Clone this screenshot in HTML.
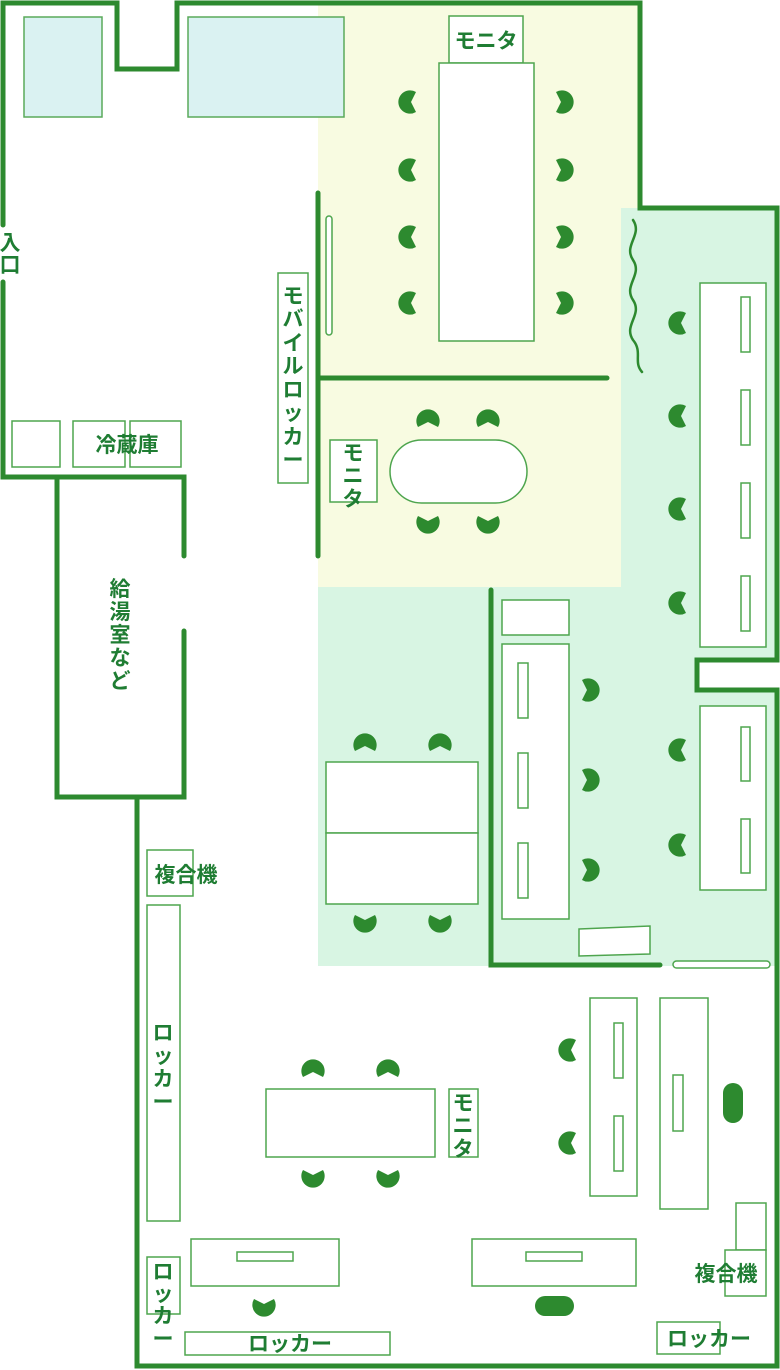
<!DOCTYPE html>
<html><head><meta charset="utf-8"><style>
html,body{margin:0;padding:0;background:#fff;}
svg{display:block;}
text{font-family:"Liberation Sans","Noto Sans CJK JP",sans-serif;font-size:21px;font-weight:bold;fill:#1f7d33;}
</style></head><body>
<svg width="780" height="1370" viewBox="0 0 780 1370" xmlns="http://www.w3.org/2000/svg">
<defs>
<path id="ch" d="M6,-10 A11.66 11.66 0 1 0 6,10 L1,0 Z" fill="#2d8a2f"/>
</defs>
<rect x="318" y="3" width="322" height="584" fill="#f8fbe1"/>
<rect x="621" y="208" width="156" height="380" fill="#d8f5e3"/>
<rect x="318" y="587" width="459" height="379" fill="#d8f5e3"/>
<rect x="697" y="660" width="80" height="30" fill="#fff"/>
<rect x="24" y="17" width="78" height="100" fill="#daf2f2" stroke="#5aaa5a" stroke-width="1.5"/>
<rect x="188" y="17" width="156" height="100" fill="#daf2f2" stroke="#5aaa5a" stroke-width="1.5"/>
<g fill="none" stroke="#2d8a2f" stroke-width="5" stroke-linecap="round" stroke-linejoin="miter">
<path d="M3,225 V3 H117 V69 H177 V3 H640 V208 H777 V660 H697 V690 H777 V1366 H137 V797"/>
<path d="M3,282 V477 H184 V556"/>
<path d="M57,477 V797 H184 V631"/>
<path d="M318,193 V556"/>
<path d="M318,378 H607"/>
<path d="M491,590 V965 H660"/>
</g>
<g fill="#fff" stroke="#4ea54e" stroke-width="1.5">
<rect x="673" y="961" width="97" height="7" rx="3.5"/>
<rect x="326" y="216" width="6" height="119" rx="3"/>
<rect x="12" y="421" width="48" height="46"/>
<rect x="73" y="421" width="52" height="46"/>
<rect x="130" y="421" width="51" height="46"/>
<rect x="278" y="273" width="30" height="210"/>
<rect x="449" y="16" width="74" height="47"/>
<rect x="439" y="63" width="95" height="278"/>
<rect x="330" y="440" width="47" height="62"/>
<rect x="390" y="440" width="137" height="63" rx="31.5"/>
<rect x="700" y="283" width="66" height="364"/>
<rect x="741" y="297" width="9" height="55"/>
<rect x="741" y="390" width="9" height="55"/>
<rect x="741" y="483" width="9" height="55"/>
<rect x="741" y="576" width="9" height="55"/>
<rect x="700" y="706" width="66" height="184"/>
<rect x="741" y="727" width="9" height="54"/>
<rect x="741" y="819" width="9" height="54"/>
<rect x="502" y="600" width="67" height="35"/>
<rect x="502" y="644" width="67" height="275"/>
<rect x="518" y="663" width="10" height="55"/>
<rect x="518" y="753" width="10" height="55"/>
<rect x="518" y="843" width="10" height="55"/>
<path d="M579,929 L650,926 L650,954 L579,956 Z"/>
<rect x="326" y="762" width="152" height="71"/>
<rect x="326" y="833" width="152" height="71"/>
<rect x="147" y="850" width="46" height="46"/>
<rect x="147" y="905" width="33" height="316"/>
<rect x="147" y="1257" width="33" height="57"/>
<rect x="185" y="1332" width="205" height="23"/>
<rect x="266" y="1089" width="169" height="68"/>
<rect x="449" y="1089" width="29" height="68"/>
<rect x="590" y="998" width="47" height="198"/>
<rect x="614" y="1023" width="9" height="55"/>
<rect x="614" y="1116" width="9" height="55"/>
<rect x="660" y="998" width="48" height="211"/>
<rect x="673" y="1075" width="10" height="56"/>
<rect x="191" y="1239" width="148" height="47"/>
<rect x="237" y="1252" width="56" height="9"/>
<rect x="472" y="1239" width="164" height="47"/>
<rect x="526" y="1252" width="56" height="9"/>
<rect x="736" y="1203" width="30" height="47"/>
<rect x="725" y="1250" width="41" height="46"/>
<rect x="657" y="1322" width="63" height="32"/>
</g>
<line x1="127.5" y1="421" x2="127.5" y2="467" stroke="#fff" stroke-width="3"/>
<path d="M633,220 C643,235 623,245 633,260 C643,275 623,285 633,300 C643,315 623,325 633,340 C643,352 633,362 642,372" fill="none" stroke="#2d8a2f" stroke-width="2.5" stroke-linecap="round"/>
<rect x="723" y="1083" width="20" height="40" rx="10" fill="#2d8a2f"/>
<rect x="535" y="1296" width="39" height="20" rx="10" fill="#2d8a2f"/>
<g>
<use href="#ch" x="410" y="102"/><use href="#ch" x="410" y="170"/><use href="#ch" x="410" y="237"/><use href="#ch" x="410" y="303"/>
<use href="#ch" transform="translate(562,102) rotate(180)"/><use href="#ch" transform="translate(562,170) rotate(180)"/><use href="#ch" transform="translate(562,237) rotate(180)"/><use href="#ch" transform="translate(562,303) rotate(180)"/>
<use href="#ch" transform="translate(428,421) rotate(90)"/><use href="#ch" transform="translate(488,421) rotate(90)"/>
<use href="#ch" transform="translate(428,522) rotate(-90)"/><use href="#ch" transform="translate(488,522) rotate(-90)"/>
<use href="#ch" x="680" y="323"/><use href="#ch" x="680" y="416"/><use href="#ch" x="680" y="509"/><use href="#ch" x="680" y="603"/>
<use href="#ch" x="680" y="750"/><use href="#ch" x="680" y="845"/>
<use href="#ch" transform="translate(588,690) rotate(180)"/><use href="#ch" transform="translate(588,780) rotate(180)"/><use href="#ch" transform="translate(588,870) rotate(180)"/>
<use href="#ch" transform="translate(365,745) rotate(90)"/><use href="#ch" transform="translate(440,745) rotate(90)"/>
<use href="#ch" transform="translate(365,921) rotate(-90)"/><use href="#ch" transform="translate(440,921) rotate(-90)"/>
<use href="#ch" transform="translate(313,1071) rotate(90)"/><use href="#ch" transform="translate(388,1071) rotate(90)"/>
<use href="#ch" transform="translate(313,1176) rotate(-90)"/><use href="#ch" transform="translate(388,1176) rotate(-90)"/>
<use href="#ch" x="570" y="1050"/><use href="#ch" x="570" y="1143"/>
<use href="#ch" transform="translate(264,1305) rotate(-90)"/>
</g>
<g text-anchor="middle">
<text x="10" y="250">入</text><text x="10" y="272">口</text>
<text x="127" y="452">冷蔵庫</text>
<text x="486" y="48">モニタ</text>
<text x="293" y="303">モ</text><text x="293" y="326">バ</text><text x="293" y="350">イ</text><text x="293" y="373">ル</text><text x="293" y="397">ロ</text><text x="293" y="420">ッ</text><text x="293" y="444">カ</text><text x="293" y="467">ー</text>
<text x="353" y="460">モ</text><text x="353" y="483">ニ</text><text x="353" y="506">タ</text>
<text x="120" y="596">給</text><text x="120" y="619">湯</text><text x="120" y="642">室</text><text x="120" y="665">な</text><text x="120" y="688">ど</text>
<text x="186" y="882">複合機</text>
<text x="163" y="1040">ロ</text><text x="163" y="1063">ッ</text><text x="163" y="1086">カ</text><text x="163" y="1109">ー</text>
<text x="463" y="1110">モ</text><text x="463" y="1133">ニ</text><text x="463" y="1156">タ</text>
<text x="163" y="1279">ロ</text><text x="163" y="1301">ッ</text><text x="163" y="1323">カ</text><text x="163" y="1346">ー</text>
<text x="290" y="1351">ロッカー</text>
<text x="726" y="1281">複合機</text>
<text x="709" y="1346">ロッカー</text>
</g>
</svg>
</body></html>
